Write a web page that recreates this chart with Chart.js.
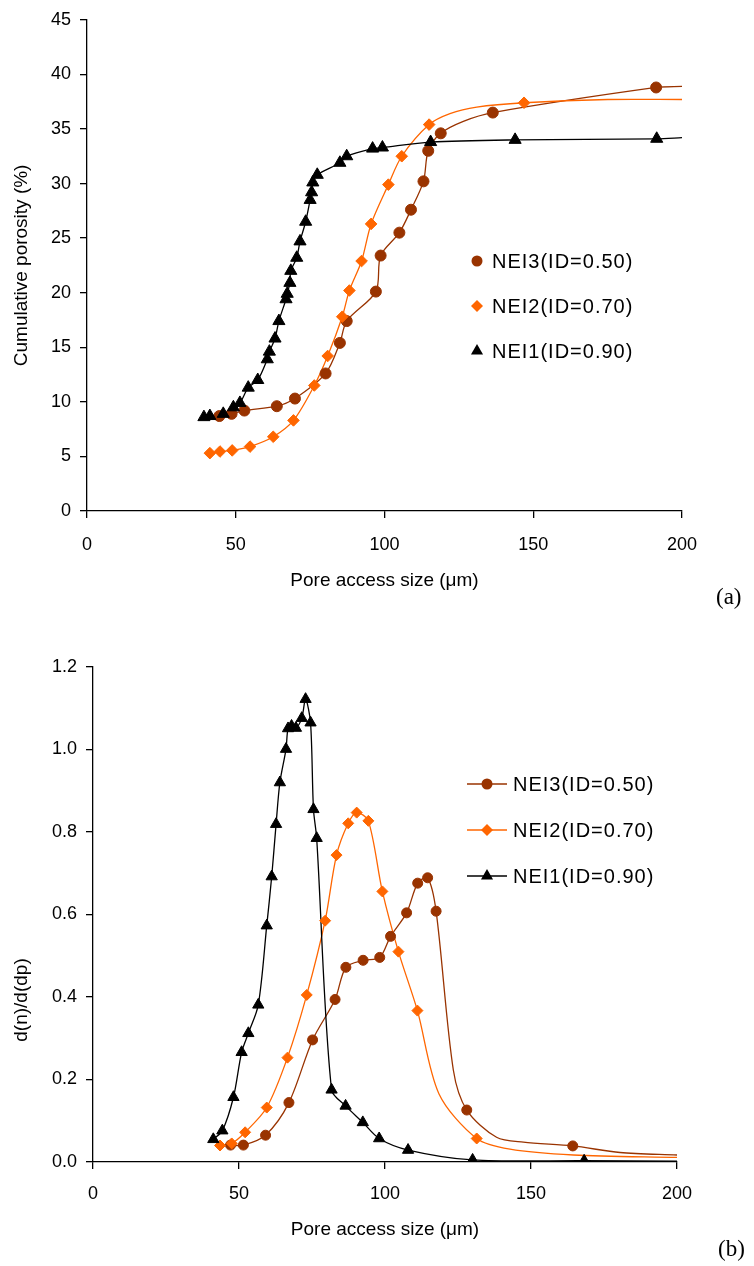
<!DOCTYPE html>
<html>
<head>
<meta charset="utf-8">
<script src="https://cdn.jsdelivr.net/npm/chart.js@4.4.1/dist/chart.umd.min.js"></script>
<style>
  html, body { margin: 0; padding: 0; background: #fff; }
  #page { position: relative; width: 754px; height: 1266px; }
  #chartA { position: absolute; left: 0; top: 0; }
  #chartB { position: absolute; left: 0; top: 620px; }
  .tag { position: absolute; font-family: "Liberation Serif", "Times New Roman", serif; font-size: 23px; color: #000; }
</style>
</head>
<body>
<div id="page">
  <canvas id="chartA" width="754" height="620"></canvas>
  <canvas id="chartB" width="754" height="646"></canvas>
  <div class="tag" style="left:716px; top:584px;">(a)</div>
  <div class="tag" style="left:718px; top:1236px;">(b)</div>
</div>
<script>
// series names
const names = ['NEI3(ID=0.50)', 'NEI2(ID=0.70)', 'NEI1(ID=0.90)'];

// (a) cumulative porosity (%) vs pore access size (um) - marked points
const nei3CumX = [44.5, 48.6, 52.9, 63.8, 69.9, 80.2, 85.0, 87.3, 97.1, 98.7, 105.0, 108.9, 113.1, 114.7, 118.9, 136.4, 191.3];
const nei3CumY = [8.7, 8.9, 9.2, 9.6, 10.3, 12.6, 15.4, 17.4, 20.1, 23.4, 25.5, 27.6, 30.2, 33.0, 34.6, 36.5, 38.8];
const nei2CumX = [41.3, 44.7, 48.8, 54.8, 62.6, 69.4, 76.4, 80.9, 85.8, 88.2, 92.3, 95.5, 101.3, 105.8, 115.0, 146.9];
const nei2CumY = [5.3, 5.45, 5.55, 5.9, 6.8, 8.3, 11.5, 14.2, 17.8, 20.2, 22.9, 26.3, 29.9, 32.5, 35.4, 37.4];
const nei1CumX = [39.3, 41.3, 45.8, 49.2, 51.4, 54.2, 57.4, 60.6, 61.3, 63.2, 64.5, 66.9, 67.3, 68.2, 68.5, 70.5, 71.6, 73.5, 75.0, 75.5, 75.9, 77.4, 85.0, 87.3, 96.0, 99.3, 115.5, 143.9, 191.5];
const nei1CumY = [8.6, 8.7, 8.9, 9.5, 9.9, 11.3, 12.0, 13.9, 14.6, 15.8, 17.4, 19.4, 19.9, 20.9, 22.0, 23.2, 24.7, 26.5, 28.5, 29.2, 30.1, 30.8, 31.9, 32.5, 33.2, 33.3, 33.8, 34.0, 34.1];
// curve points without a marker
const nei3CumLineX = [126.5, 200];
const nei3CumLineY = [35.7, 38.9];
const nei2CumLineX = [122, 131, 175, 200];
const nei2CumLineY = [36.4, 37.0, 37.7, 37.7];
const nei1CumLineX = [200];
const nei1CumLineY = [34.2];

// (b) d(n)/d(dp) vs pore access size (um) - marked points
const nei3DistX = [47.1, 51.5, 59.1, 67.1, 75.2, 82.9, 86.6, 92.5, 98.2, 101.9, 107.4, 111.2, 114.6, 117.5, 128.0, 164.3];
const nei3DistY = [0.041, 0.041, 0.065, 0.144, 0.296, 0.394, 0.472, 0.489, 0.496, 0.547, 0.604, 0.676, 0.689, 0.608, 0.126, 0.039];
const nei2DistX = [43.5, 47.5, 52.1, 59.5, 66.6, 73.2, 79.5, 83.4, 87.4, 90.3, 94.3, 99.1, 104.6, 111.1, 131.4];
const nei2DistY = [0.04, 0.045, 0.072, 0.132, 0.253, 0.405, 0.585, 0.744, 0.821, 0.847, 0.827, 0.656, 0.51, 0.367, 0.057];
const nei1DistX = [41.2, 44.3, 48.1, 50.9, 53.2, 56.6, 59.5, 61.2, 62.7, 64.0, 66.1, 66.8, 68.0, 69.5, 71.5, 72.8, 74.5, 75.5, 76.6, 81.7, 86.5, 92.4, 98.0, 107.9, 130.0, 168.2];
const nei1DistY = [0.055, 0.076, 0.157, 0.266, 0.312, 0.381, 0.573, 0.692, 0.819, 0.92, 1.001, 1.051, 1.057, 1.052, 1.076, 1.122, 1.065, 0.855, 0.785, 0.175, 0.136, 0.096, 0.057, 0.029, 0.005, 0.003];
const nei3DistLineX = [123.4, 138.2, 147.4, 180.5, 200];
const nei3DistLineY = [0.223, 0.06, 0.048, 0.023, 0.017];
const nei2DistLineX = [118.5, 142.8, 164.5, 200];
const nei2DistLineY = [0.165, 0.031, 0.017, 0.011];
const nei1DistLineX = [200];
const nei1DistLineY = [0.002];

const brown = '#993300';
const orange = '#FF6600';
const black = '#000000';
const fontFamily = '"Liberation Sans", Arial, sans-serif';

function pts(xs, ys) {
    return xs.map(function(x, i) { return { x: x, y: ys[i] }; });
}
function curve(xs, ys, ex, ey) {
    return pts(xs.concat(ex), ys.concat(ey)).sort(function(a, b) { return a.x - b.x; });
}

// one line (no markers) + one marker set for a series
function series(label, color, style, radius, xs, ys, ex, ey, order) {
    return [
        {
            label: label,
            data: curve(xs, ys, ex, ey),
            showLine: true,
            borderColor: color,
            borderWidth: 1.3,
            pointRadius: 0,
            pointHoverRadius: 0,
            tension: 0.3,
            fill: false,
            order: order + 3
        },
        {
            label: label,
            data: pts(xs, ys),
            showLine: false,
            pointStyle: style,
            pointRadius: radius,
            pointHoverRadius: radius,
            backgroundColor: color,
            borderColor: color,
            borderWidth: 1,
            order: order
        }
    ];
}

function marker(ctx, style, r, x, y, color) {
    ctx.beginPath();
    if (style === 'circle') {
        ctx.arc(x, y, r, 0, Math.PI * 2);
    } else if (style === 'rectRot') {
        ctx.moveTo(x - r, y); ctx.lineTo(x, y - r); ctx.lineTo(x + r, y); ctx.lineTo(x, y + r);
        ctx.closePath();
    } else {
        ctx.moveTo(x, y - r);
        ctx.lineTo(x + Math.sin(2 * Math.PI / 3) * r, y + r / 2);
        ctx.lineTo(x - Math.sin(2 * Math.PI / 3) * r, y + r / 2);
        ctx.closePath();
    }
    ctx.fillStyle = color;
    ctx.fill();
}

// legend drawn inside the plot
function keyPlugin(items, x, y, gap, withLine) {
    return {
        id: 'key',
        afterDraw: function(chart) {
            const ctx = chart.ctx;
            ctx.save();
            items.forEach(function(it, i) {
                const yy = y + i * gap;
                if (withLine) {
                    ctx.strokeStyle = it.color;
                    ctx.lineWidth = 1.3;
                    ctx.beginPath();
                    ctx.moveTo(x - 20, yy);
                    ctx.lineTo(x + 20, yy);
                    ctx.stroke();
                }
                marker(ctx, it.style, it.radius, x, yy, it.color);
                ctx.fillStyle = '#000';
                ctx.font = '20px ' + fontFamily;
                ctx.letterSpacing = '1px';
                ctx.textBaseline = 'middle';
                ctx.textAlign = 'left';
                ctx.fillText(it.label, x + (withLine ? 26 : 15), yy + 1);
            });
            ctx.restore();
        }
    };
}

// rotated y title placed by hand (chart b sits lower than centre)
function yTitlePlugin(text, x, y) {
    return {
        id: 'ytitle',
        afterDraw: function(chart) {
            const ctx = chart.ctx;
            ctx.save();
            ctx.translate(x, y);
            ctx.rotate(-Math.PI / 2);
            ctx.fillStyle = '#000';
            ctx.font = '19px ' + fontFamily;
            ctx.textAlign = 'center';
            ctx.textBaseline = 'middle';
            ctx.fillText(text, 0, 0);
            ctx.restore();
        }
    };
}

function axisX(tickPad, titlePad, height) {
    return {
        type: 'linear',
        min: 0, max: 200,
        ticks: { stepSize: 50, color: '#000', padding: tickPad, font: { family: fontFamily, size: 18 } },
        grid: { drawOnChartArea: false, drawTicks: true, tickLength: 7, color: '#000', lineWidth: 1.3 },
        border: { color: '#000', width: 1.3 },
        title: {
            display: true, text: 'Pore access size (\u03bcm)', color: '#000',
            font: { family: fontFamily, size: 19 }, padding: { top: 0, bottom: titlePad }
        },
        afterFit: function(scale) { scale.height = height; }
    };
}

function axisY(min, max, step, title, showTitle, width, fmt) {
    return {
        type: 'linear',
        min: min, max: max,
        ticks: {
            stepSize: step, color: '#000', padding: 9, font: { family: fontFamily, size: 18 },
            callback: fmt
        },
        grid: { drawOnChartArea: false, drawTicks: true, tickLength: 7, color: '#000', lineWidth: 1.3 },
        border: { color: '#000', width: 1.3 },
        title: {
            display: showTitle, text: title, color: '#000',
            font: { family: fontFamily, size: 19 }, padding: { top: 10, bottom: 0 }
        },
        afterFit: function(scale) { scale.width = width; }
    };
}

const keyItems = [
    { label: names[0], color: brown, style: 'circle', radius: 5.5 },
    { label: names[1], color: orange, style: 'rectRot', radius: 6 },
    { label: names[2], color: black, style: 'triangle', radius: 7 }
];

// chart (a)
new Chart(document.getElementById('chartA'), {
    type: 'scatter',
    data: {
        datasets: [].concat(
            series(names[0], brown, 'circle', 5.5, nei3CumX, nei3CumY, nei3CumLineX, nei3CumLineY, 2),
            series(names[1], orange, 'rectRot', 5.8, nei2CumX, nei2CumY, nei2CumLineX, nei2CumLineY, 1),
            series(names[2], black, 'triangle', 7, nei1CumX, nei1CumY, nei1CumLineX, nei1CumLineY, 0)
        )
    },
    options: {
        responsive: false,
        animation: false,
        layout: { padding: { left: 0, top: 16, right: 72, bottom: 0 } },
        plugins: { legend: { display: false }, tooltip: { enabled: false } },
        scales: {
            x: axisX(16, 28, 109),
            y: axisY(0, 45, 5, 'Cumulative porosity (%)', true, 87, function(v) { return v; })
        }
    },
    plugins: [keyPlugin(keyItems, 477, 261, 45, false)]
});

// chart (b)
new Chart(document.getElementById('chartB'), {
    type: 'scatter',
    data: {
        datasets: [].concat(
            series(names[0], brown, 'circle', 5, nei3DistX, nei3DistY, nei3DistLineX, nei3DistLineY, 2),
            series(names[1], orange, 'rectRot', 5.5, nei2DistX, nei2DistY, nei2DistLineX, nei2DistLineY, 1),
            series(names[2], black, 'triangle', 6.5, nei1DistX, nei1DistY, nei1DistLineX, nei1DistLineY, 0)
        )
    },
    options: {
        responsive: false,
        animation: false,
        layout: { padding: { left: 0, top: 47, right: 77, bottom: 0 } },
        plugins: { legend: { display: false }, tooltip: { enabled: false } },
        scales: {
            x: axisX(14, 25, 104),
            y: axisY(0, 1.2, 0.2, 'd(n)/d(dp)', false, 93, function(v) { return v.toFixed(1); })
        }
    },
    plugins: [keyPlugin(keyItems, 487, 164, 46, true), yTitlePlugin('d(n)/d(dp)', 22, 380)]
});
</script>
</body>
</html>
